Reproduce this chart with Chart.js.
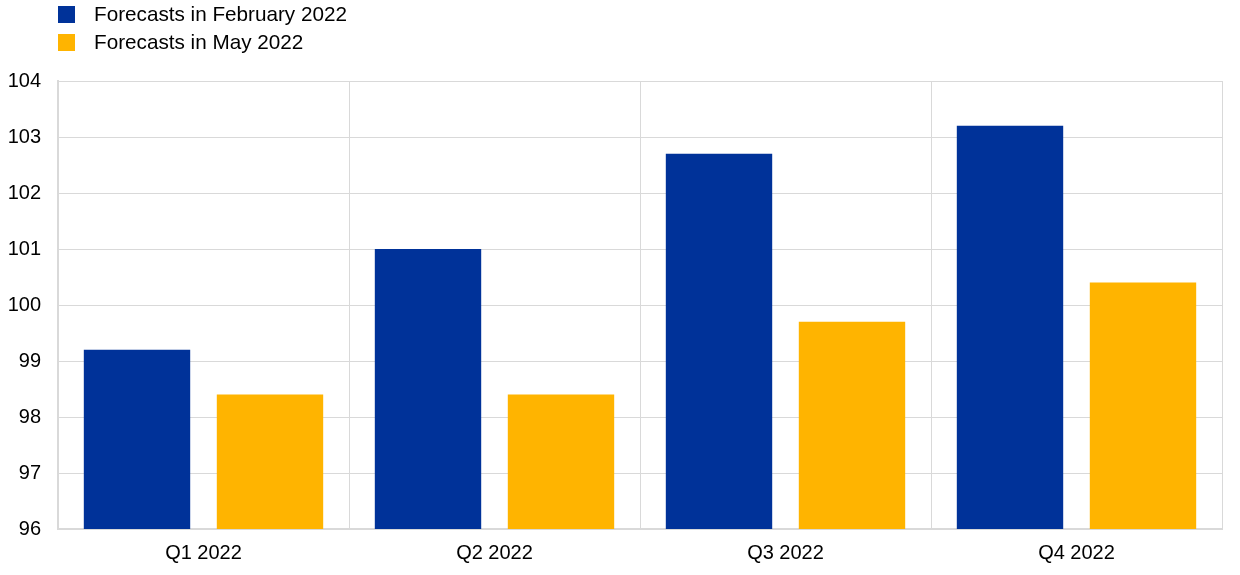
<!DOCTYPE html>
<html>
<head>
<meta charset="utf-8">
<script src="https://cdn.jsdelivr.net/npm/chart.js@4"></script>
<style>
html,body{margin:0;padding:0;background:#fff;}
#wrap{position:relative;width:1240px;height:575px;}
#legend{position:absolute;left:58px;top:0px;font-family:"Liberation Sans",Arial,sans-serif;font-size:20.7px;color:#000;}
.item{display:flex;align-items:center;height:28px;}
.sw{width:17px;height:17px;margin-right:19px;}
canvas{position:absolute;left:0;top:0;}
</style>
</head>
<body>
<div id="wrap">
<canvas id="c" width="1240" height="575"></canvas>
<div id="legend"></div>
</div>
<script>
const categories = ["Q1 2022", "Q2 2022", "Q3 2022", "Q4 2022"];
const seriesNames = ["Forecasts in February 2022", "Forecasts in May 2022"];
const febValues = [99.2, 101.0, 102.7, 103.2];
const mayValues = [98.4, 98.4, 99.7, 100.4];
const yTicks = [96, 97, 98, 99, 100, 101, 102, 103, 104];
const colors = ["#003299", "#FFB400"];

const leg = document.getElementById('legend');
seriesNames.forEach((n, i) => {
  const d = document.createElement('div'); d.className = 'item';
  d.innerHTML = '<div class="sw" style="background:' + colors[i] + '"></div><span>' + n + '</span>';
  leg.appendChild(d);
});

Chart.defaults.font.family = '"Liberation Sans", Arial, sans-serif';
Chart.defaults.color = '#000';

new Chart(document.getElementById('c'), {
  type: 'bar',
  data: {
    labels: categories,
    datasets: [
      { label: seriesNames[0], data: febValues, backgroundColor: colors[0], barPercentage: 0.8, categoryPercentage: 0.914 },
      { label: seriesNames[1], data: mayValues, backgroundColor: colors[1], barPercentage: 0.8, categoryPercentage: 0.914 }
    ]
  },
  options: {
    responsive: false,
    animation: false,
    layout: { padding: { top: 81, right: 18, left: 0, bottom: 0 } },
    plugins: { legend: { display: false }, tooltip: { enabled: false } },
    scales: {
      x: {
        grid: { color: '#d9d9d9', lineWidth: 1, drawTicks: false, offset: true },
        border: { color: '#d9d9d9', width: 2 },
        ticks: { font: { size: 20 }, padding: 12, color: '#000' },
        afterFit: s => { s.height = 46; }
      },
      y: {
        min: 96, max: 104,
        afterBuildTicks: s => { s.ticks = yTicks.map(v => ({ value: v })); },
        grid: { color: '#d9d9d9', lineWidth: 1, drawTicks: false },
        border: { color: '#d9d9d9', width: 2 },
        ticks: { font: { size: 20 }, padding: 17, color: '#000' },
        afterFit: s => { s.width = 58; }
      }
    }
  }
});
</script>
</body>
</html>
